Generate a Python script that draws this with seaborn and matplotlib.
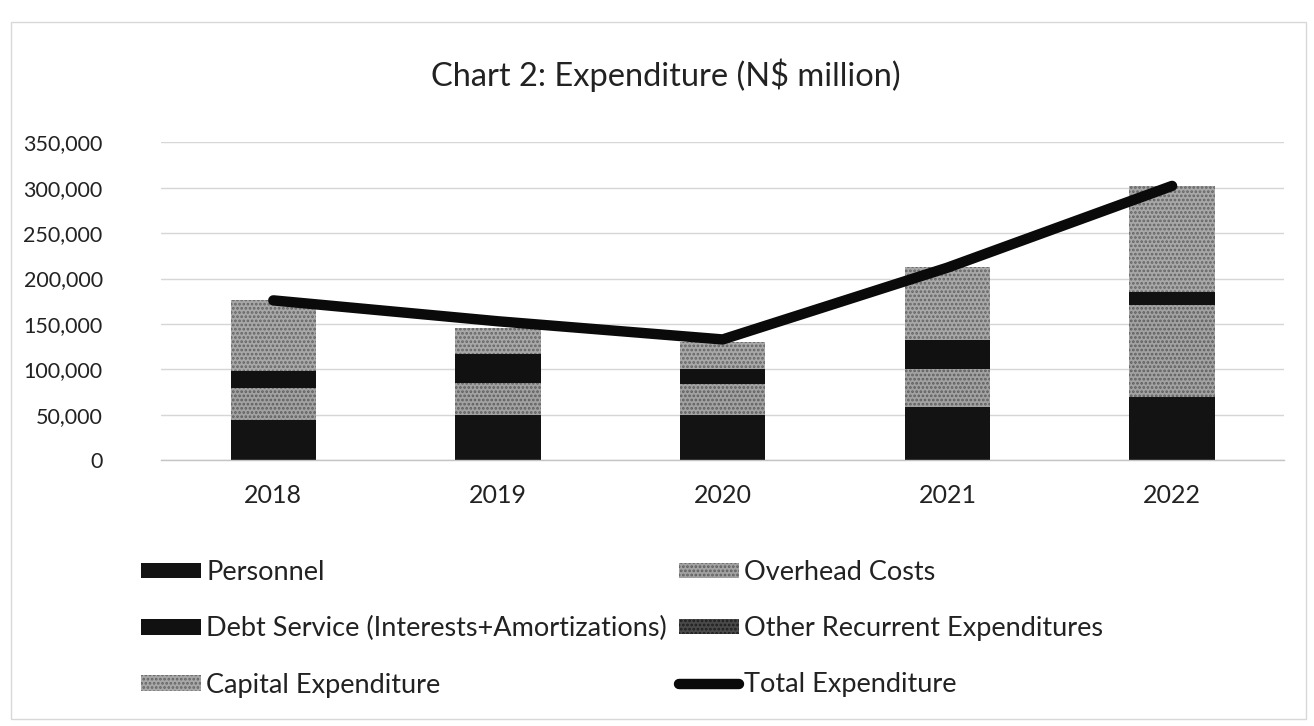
import numpy as np
import pandas as pd
import matplotlib
matplotlib.use("Agg")
import matplotlib.pyplot as plt
from matplotlib.patches import Rectangle, Patch
from matplotlib.lines import Line2D
from matplotlib.ticker import FuncFormatter
import seaborn as sns

# Expenditure by category (N$ million)
years = ["2018", "2019", "2020", "2021", "2022"]
personnel = [44000, 50000, 50000, 59000, 70000]
overhead = [36000, 35000, 34000, 41000, 101000]
debt_service = [18000, 32000, 17000, 32000, 14000]
other_recurrent = [0, 0, 0, 0, 0]
capital = [78000, 29000, 29000, 81000, 117000]
total = [176000, 153000, 133000, 212000, 302000]

sns.set_theme(style="white")
plt.rcParams["font.family"] = ["Lato", "DejaVu Sans"]
plt.rcParams["hatch.linewidth"] = 1.3

fig = plt.figure(figsize=(13.14, 7.26), dpi=100)
ax = fig.add_axes([0.1225, 0.366, 0.855, 0.438])

df = pd.DataFrame({
    "year": years,
    "Personnel": personnel,
    "Overhead Costs": overhead,
    "Debt Service (Interests+Amortizations)": debt_service,
    "Other Recurrent Expenditures": other_recurrent,
    "Capital Expenditure": capital,
})

# (face colour, hatch colour, hatch)
styles = {
    "Personnel": ("#131313", "#131313", None),
    "Overhead Costs": ("#a2a2a2", "#5e5e5e", "...."),
    "Debt Service (Interests+Amortizations)": ("#111111", "#111111", None),
    "Other Recurrent Expenditures": ("#4a4a4a", "#1e1e1e", "...."),
    "Capital Expenditure": ("#a8a8a8", "#646464", "...."),
}
stack_order = ["Personnel", "Overhead Costs",
               "Debt Service (Interests+Amortizations)",
               "Other Recurrent Expenditures", "Capital Expenditure"]

bottom = np.zeros(len(years))
for name in stack_order:
    face, hcol, hatch = styles[name]
    vals = df[name].to_numpy(dtype=float)
    sns.barplot(data=df, x="year", y=name, color=face, width=0.38,
                bottom=bottom, saturation=1, ax=ax, edgecolor=hcol,
                linewidth=0, hatch=hatch)
    bottom = bottom + vals

xpos = np.arange(len(years))
sns.lineplot(x=xpos, y=total, color="#0a0a0a", linewidth=7.5,
             solid_capstyle="round", ax=ax)

ax.set_xlim(-0.5, len(years) - 0.5)
ax.set_ylim(0, 350000)
ax.set_yticks(np.arange(0, 350001, 50000))
ax.yaxis.set_major_formatter(FuncFormatter(lambda v, p: f"{int(v):,}"))
ax.grid(axis="y", color="#d6d6d6", linewidth=1.0)
ax.set_axisbelow(True)
for s in ["top", "right", "left"]:
    ax.spines[s].set_visible(False)
ax.spines["bottom"].set_color("#c4c4c4")
ax.spines["bottom"].set_linewidth(1.0)
ax.set_xlabel("")
ax.set_ylabel("")
ax.tick_params(axis="y", labelsize=15.5, colors="#222222", pad=42, length=0)
ax.tick_params(axis="x", labelsize=18, colors="#222222", pad=17, length=0)
for lbl in ax.get_yticklabels():
    lbl.set_horizontalalignment("right")

fig.text(0.507, 0.897, "Chart 2: Expenditure (N$ million)", ha="center",
         va="center", fontsize=23.5, color="#222222")

# legend, two columns
def patch_for(name):
    face, hcol, hatch = styles[name]
    return Patch(facecolor=face, edgecolor=hcol, linewidth=0, hatch=hatch)

handles = [
    patch_for("Personnel"),
    patch_for("Debt Service (Interests+Amortizations)"),
    patch_for("Capital Expenditure"),
    patch_for("Overhead Costs"),
    patch_for("Other Recurrent Expenditures"),
    Line2D([0], [0], color="#0a0a0a", linewidth=7.5, solid_capstyle="round"),
]
labels = ["Personnel", "Debt Service (Interests+Amortizations)",
          "Capital Expenditure", "Overhead Costs",
          "Other Recurrent Expenditures", "Total Expenditure"]
fig.legend(handles, labels, loc="upper left", bbox_to_anchor=(0.089, 0.262),
           ncol=2, frameon=False, fontsize=19.5, handlelength=2.2,
           handleheight=0.5, handletextpad=0.2, columnspacing=0.45,
           labelspacing=1.15, labelcolor="#222222")

fig.patches.append(Rectangle((0.008, 0.01), 0.986, 0.96, transform=fig.transFigure,
                             fill=False, edgecolor="#d8d8d8", linewidth=1))

fig.savefig("out.png", dpi=100, facecolor="white")
